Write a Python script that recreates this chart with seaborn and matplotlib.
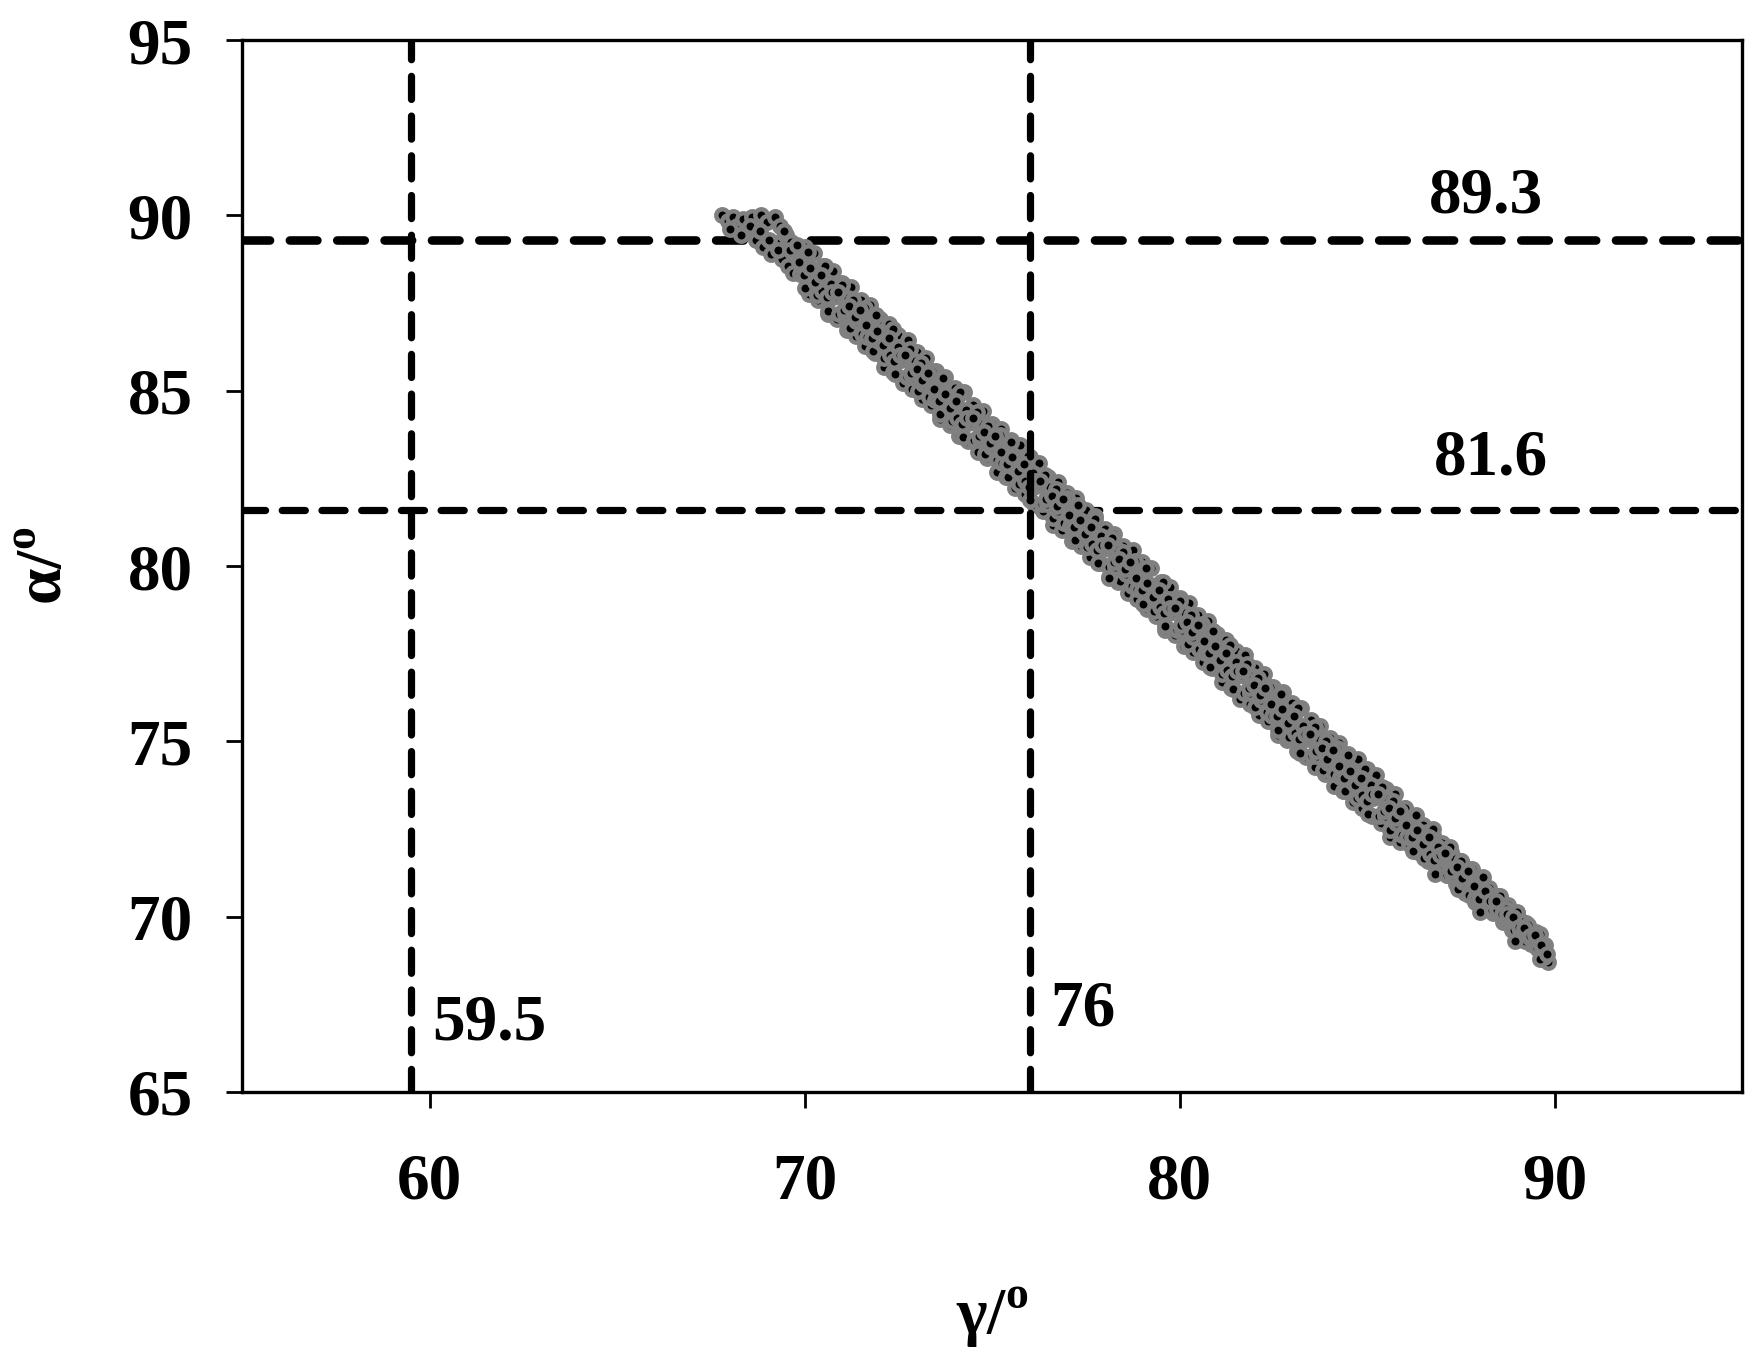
import matplotlib
matplotlib.use("Agg")
import matplotlib.pyplot as plt
import seaborn as sns

# gamma / alpha pairs
gamma_top = [67.80, 67.95, 68.10, 68.20, 68.35, 68.45, 68.60, 68.70, 68.85, 68.90,
             69.00, 69.10, 69.20, 69.25, 69.35, 69.40, 69.50, 69.55, 69.65, 69.70,
             68.00, 68.30, 68.55, 68.80, 69.05, 69.30, 69.45, 69.60]
alpha_top = [90.00, 89.85, 89.95, 89.70, 89.90, 89.55, 89.95, 89.30, 90.00, 89.10,
             89.80, 88.90, 89.95, 89.20, 89.70, 88.75, 89.45, 88.55, 89.25, 88.35,
             89.60, 89.45, 89.70, 89.55, 89.30, 89.00, 89.55, 89.00]

# upper and lower rims of the band
gamma_ou = [70.00, 70.25, 70.50, 70.75, 71.00, 71.25, 71.50, 71.75, 72.00, 72.25,
            72.50, 72.75, 73.00, 73.25, 73.50, 73.75, 74.00, 74.25, 74.50, 74.75,
            75.00, 75.25, 75.50, 75.75, 76.00, 76.25, 76.50, 76.75, 77.00, 77.25,
            77.50, 77.75, 78.00, 78.25, 78.50, 78.75, 79.00, 79.25, 79.50, 79.75,
            80.00, 80.25, 80.50, 80.75, 81.00, 81.25, 81.50, 81.75, 82.00, 82.25,
            82.50, 82.75, 83.00, 83.25, 83.50, 83.75, 84.00, 84.25, 84.50, 84.75,
            85.00, 85.25, 85.50, 85.75, 86.00, 86.25, 86.50, 86.75, 87.00, 87.25,
            87.50, 87.75, 88.00, 88.25, 88.50, 88.75, 89.00, 89.25, 89.50]
alpha_ou = [89.10, 88.93, 88.55, 88.40, 88.08, 87.95, 87.60, 87.43, 87.05, 86.90,
            86.58, 86.45, 86.10, 85.93, 85.55, 85.40, 85.08, 84.95, 84.60, 84.43,
            84.05, 83.90, 83.58, 83.45, 83.10, 82.93, 82.55, 82.40, 82.08, 81.95,
            81.60, 81.43, 81.05, 80.90, 80.58, 80.45, 80.10, 79.93, 79.55, 79.40,
            79.08, 78.95, 78.60, 78.43, 78.05, 77.90, 77.58, 77.45, 77.10, 76.93,
            76.55, 76.40, 76.08, 75.95, 75.60, 75.43, 75.10, 74.95, 74.63, 74.50,
            74.20, 74.03, 73.65, 73.50, 73.10, 72.85, 72.60, 72.33, 72.10, 71.85,
            71.60, 71.35, 71.08, 70.83, 70.58, 70.33, 70.10, 69.83, 69.55]

gamma_ol = [70.12, 70.37, 70.62, 70.87, 71.12, 71.37, 71.62, 71.87, 72.12, 72.37,
            72.62, 72.87, 73.12, 73.37, 73.62, 73.87, 74.12, 74.37, 74.62, 74.87,
            75.12, 75.37, 75.62, 75.87, 76.12, 76.37, 76.62, 76.87, 77.12, 77.37,
            77.62, 77.87, 78.12, 78.37, 78.62, 78.87, 79.12, 79.37, 79.62, 79.87,
            80.12, 80.37, 80.62, 80.87, 81.12, 81.37, 81.62, 81.87, 82.12, 82.37,
            82.62, 82.87, 83.12, 83.37, 83.62, 83.87, 84.12, 84.37, 84.62, 84.87,
            85.12, 85.37, 85.62, 85.87, 86.12, 86.37, 86.62, 86.87, 87.12, 87.37,
            87.62, 87.87, 88.12, 88.37, 88.62, 88.87, 89.12, 89.37, 89.62]
alpha_ol = [87.76, 87.58, 87.18, 87.03, 86.72, 86.56, 86.26, 86.08, 85.68, 85.53,
            85.22, 85.06, 84.76, 84.58, 84.18, 84.03, 83.72, 83.56, 83.26, 83.08,
            82.68, 82.53, 82.22, 82.06, 81.76, 81.58, 81.18, 81.03, 80.72, 80.56,
            80.26, 80.08, 79.68, 79.53, 79.22, 79.06, 78.76, 78.58, 78.18, 78.03,
            77.72, 77.56, 77.26, 77.08, 76.68, 76.53, 76.22, 76.06, 75.76, 75.58,
            75.18, 75.03, 74.72, 74.56, 74.26, 74.08, 73.73, 73.58, 73.27, 73.11,
            72.86, 72.68, 72.28, 72.13, 72.08, 71.83, 71.58, 71.35, 71.18, 70.93,
            70.68, 70.43, 70.36, 70.11, 69.86, 69.61, 69.44, 69.21, 68.99]

gamma_mid = [69.80, 69.87, 69.95, 70.02, 70.10, 70.17, 70.25, 70.32, 70.40, 70.47,
             70.55, 70.62, 70.70, 70.77, 70.85, 70.92, 71.00, 71.07, 71.15, 71.22,
             71.30, 71.37, 71.45, 71.52, 71.60, 71.67, 71.75, 71.82, 71.90, 71.97,
             72.05, 72.12, 72.20, 72.27, 72.35, 72.42, 72.50, 72.57, 72.65, 72.72,
             72.80, 72.87, 72.95, 73.02, 73.10, 73.17, 73.25, 73.32, 73.40, 73.47,
             73.55, 73.62, 73.70, 73.77, 73.85, 73.92, 74.00, 74.07, 74.15, 74.22,
             74.30, 74.37, 74.45, 74.52, 74.60, 74.67, 74.75, 74.82, 74.90, 74.97,
             75.05, 75.12, 75.20, 75.27, 75.35, 75.42, 75.50, 75.57, 75.65, 75.72,
             75.80, 75.87, 75.95, 76.02, 76.10, 76.17, 76.25, 76.32, 76.40, 76.47,
             76.55, 76.62, 76.70, 76.77, 76.85, 76.92, 77.00, 77.07, 77.15, 77.22,
             77.30, 77.37, 77.45, 77.52, 77.60, 77.67, 77.75, 77.82, 77.90, 77.97,
             78.05, 78.12, 78.20, 78.27, 78.35, 78.42, 78.50, 78.57, 78.65, 78.72,
             78.80, 78.87, 78.95, 79.02, 79.10, 79.17, 79.25, 79.32, 79.40, 79.47,
             79.55, 79.62, 79.70, 79.77, 79.85, 79.92, 78.13]
alpha_mid = [89.15, 88.33, 88.75, 87.93, 88.95, 88.23, 88.35, 87.73, 88.45, 87.83,
             88.55, 87.28, 88.05, 87.68, 87.70, 87.18, 88.00, 87.18, 87.65, 86.78,
             87.60, 86.98, 87.20, 86.63, 87.35, 86.53, 86.95, 86.13, 87.15, 86.43,
             86.55, 85.93, 86.65, 86.03, 86.75, 85.48, 86.25, 85.88, 85.90, 85.38,
             86.20, 85.38, 85.85, 84.98, 85.80, 85.18, 85.40, 84.83, 85.55, 84.73,
             85.15, 84.33, 85.35, 84.63, 84.75, 84.13, 84.85, 84.23, 84.95, 83.68,
             84.45, 84.08, 84.10, 83.58, 84.40, 83.58, 84.05, 83.18, 84.00, 83.38,
             83.60, 83.03, 83.75, 82.93, 83.35, 82.53, 83.55, 82.83, 82.95, 82.33,
             83.05, 82.43, 83.15, 81.88, 82.65, 82.28, 82.30, 81.78, 82.60, 81.78,
             82.25, 81.38, 82.20, 81.58, 81.80, 81.23, 81.95, 81.13, 81.55, 80.73,
             81.75, 81.03, 81.15, 80.53, 81.25, 80.63, 81.35, 80.08, 80.85, 80.48,
             80.50, 79.98, 80.80, 79.98, 80.45, 79.58, 80.40, 79.78, 80.00, 79.43,
             80.15, 79.33, 79.75, 78.93, 79.95, 79.23, 79.35, 78.73, 79.45, 78.83,
             79.55, 78.28, 79.05, 78.68, 78.70, 78.18, 79.66]

gamma_low = [80.00, 80.07, 80.15, 80.22, 80.30, 80.37, 80.45, 80.52, 80.60, 80.67,
             80.75, 80.82, 80.90, 80.97, 81.05, 81.12, 81.20, 81.27, 81.35, 81.42,
             81.50, 81.57, 81.65, 81.72, 81.80, 81.87, 81.95, 82.02, 82.10, 82.17,
             82.25, 82.32, 82.40, 82.47, 82.55, 82.62, 82.70, 82.77, 82.85, 82.92,
             83.00, 83.07, 83.15, 83.22, 83.30, 83.37, 83.45, 83.52, 83.60, 83.67,
             83.75, 83.82, 83.90, 83.97, 84.05, 84.12, 84.20, 84.27, 84.35, 84.42,
             84.50, 84.57, 84.65, 84.72, 84.80, 84.87, 84.95, 85.02, 85.10, 85.17,
             85.25, 85.32, 85.40, 85.47, 85.55, 85.62, 85.70, 85.77, 85.85, 85.92,
             86.00, 86.07, 86.15, 86.22, 86.30, 86.37, 86.45, 86.52, 86.60, 86.67,
             86.75, 86.82, 86.90, 86.97, 87.05, 87.12, 87.20, 87.27, 87.35, 87.42,
             87.50, 87.57, 87.65, 87.72, 87.80, 87.87, 87.95, 88.02, 88.10, 88.17,
             88.25, 88.32, 88.40, 88.47, 88.55, 88.62, 88.70, 88.77, 88.85, 88.92,
             89.00, 89.07, 89.15, 89.22, 89.30, 89.37, 89.45, 89.52, 89.60, 89.67,
             89.75, 89.82, 88.95, 89.72, 89.60]
alpha_low = [79.00, 78.18, 78.65, 77.78, 78.60, 77.98, 78.20, 77.63, 78.35, 77.53,
             77.95, 77.13, 78.15, 77.43, 77.55, 76.93, 77.65, 77.03, 77.75, 76.48,
             77.25, 76.88, 76.90, 76.38, 77.20, 76.38, 76.85, 75.98, 76.80, 76.18,
             76.40, 75.83, 76.55, 75.73, 76.15, 75.33, 76.35, 75.63, 75.75, 75.13,
             75.85, 75.23, 75.95, 74.68, 75.45, 75.08, 75.10, 74.58, 75.40, 74.58,
             75.05, 74.18, 75.00, 74.38, 74.65, 74.08, 74.80, 73.98, 74.40, 73.58,
             74.60, 73.88, 74.00, 73.38, 74.10, 73.48, 74.20, 72.93, 73.75, 73.38,
             73.40, 72.88, 73.70, 72.88, 73.35, 72.48, 73.30, 72.68, 72.90, 72.33,
             73.10, 72.28, 72.70, 71.88, 72.90, 72.18, 72.30, 71.68, 72.40, 71.78,
             72.50, 71.23, 72.00, 71.63, 71.70, 71.18, 72.00, 71.18, 71.65, 70.78,
             71.60, 70.98, 71.20, 70.63, 71.35, 70.53, 70.95, 70.13, 71.13, 70.51,
             70.63, 70.19, 70.59, 70.19, 70.59, 69.95, 70.23, 69.98, 69.96, 69.62,
             70.13, 69.61, 69.86, 69.31, 69.77, 69.37, 69.47, 69.10, 69.50, 68.98,
             69.20, 68.71, 69.30, 68.85, 68.80]

# points along the middle of the band
gamma_c1 = [69.84, 69.99, 70.14, 70.29, 70.44, 70.59, 70.74, 70.89, 71.04, 71.19,
            71.34, 71.49, 71.64, 71.79, 71.94, 72.09, 72.24, 72.39, 72.54, 72.69,
            72.84, 72.99, 73.14, 73.29, 73.44, 73.59, 73.74, 73.89, 74.04, 74.19,
            74.34, 74.49, 74.64, 74.79, 74.94, 75.09, 75.24, 75.39, 75.54, 75.69,
            75.84, 75.99, 76.14, 76.29, 76.44, 76.59, 76.74, 76.89, 77.04, 77.19,
            77.34, 77.49, 77.64, 77.79, 77.94, 78.09, 78.24, 78.39, 78.54, 78.69,
            78.84, 78.99, 79.14, 79.29, 79.44, 79.59, 79.74]
alpha_c1 = [88.66, 88.31, 88.51, 88.11, 88.31, 87.66, 87.81, 87.81, 87.31, 87.41,
            87.11, 87.31, 86.86, 86.51, 86.71, 86.31, 86.51, 85.86, 86.01, 86.01,
            85.51, 85.61, 85.31, 85.51, 85.06, 84.71, 84.91, 84.51, 84.71, 84.06,
            84.21, 84.21, 83.71, 83.81, 83.51, 83.71, 83.26, 82.91, 83.11, 82.71,
            82.91, 82.26, 82.41, 82.41, 81.91, 82.01, 81.71, 81.91, 81.46, 81.11,
            81.31, 80.91, 81.11, 80.46, 80.61, 80.61, 80.11, 80.21, 79.91, 80.11,
            79.66, 79.31, 79.51, 79.11, 79.31, 78.66, 78.81]

gamma_c2 = [79.89, 80.04, 80.19, 80.34, 80.49, 80.64, 80.79, 80.94, 81.09, 81.24,
            81.39, 81.54, 81.69, 81.84, 81.99, 82.14, 82.29, 82.44, 82.59, 82.74,
            82.89, 83.04, 83.19, 83.34, 83.49, 83.64, 83.79, 83.94, 84.09, 84.24,
            84.39, 84.54, 84.69, 84.84, 84.99, 85.14, 85.29, 85.44, 85.59, 85.74,
            85.89, 86.04, 86.19, 86.34, 86.49, 86.64, 86.79, 86.94, 87.09, 87.24,
            87.39, 87.54, 87.69, 87.84, 87.99, 88.14, 88.29, 88.44, 88.59, 88.74,
            88.89, 89.04, 89.19, 89.34, 89.49, 89.64, 89.79]
alpha_c2 = [78.81, 78.31, 78.41, 78.11, 78.31, 77.86, 77.51, 77.71, 77.31, 77.51,
            76.86, 77.01, 77.01, 76.51, 76.61, 76.31, 76.51, 76.06, 75.71, 75.91,
            75.51, 75.71, 75.06, 75.21, 75.21, 74.71, 74.81, 74.51, 74.76, 74.31,
            73.96, 74.16, 73.76, 73.96, 73.31, 73.51, 73.51, 73.01, 73.11, 72.81,
            73.01, 72.61, 72.26, 72.46, 72.06, 72.26, 71.61, 71.76, 71.81, 71.31,
            71.41, 71.11, 71.31, 70.86, 70.51, 70.72, 70.44, 70.46, 70.07, 70.07,
            69.99, 69.71, 69.69, 69.46, 69.49, 69.19, 68.94]

gamma_lines = [59.5, 76]
alpha_lines = [89.3, 81.6]
line_labels = ["59.5", "76", "89.3", "81.6"]
label_x = [60.06, 76.54, 86.66, 86.79]
label_y = [66.51, 66.89, 90.07, 82.60]

xticks = [60, 70, 80, 90]
yticks = [65, 70, 75, 80, 85, 90, 95]

gamma = gamma_ou + gamma_ol + gamma_top + gamma_mid + gamma_c1 + gamma_low + gamma_c2
alpha = alpha_ou + alpha_ol + alpha_top + alpha_mid + alpha_c1 + alpha_low + alpha_c2

sns.set_theme(style="ticks")
plt.rcParams["font.family"] = ["Liberation Serif", "DejaVu Serif"]
plt.rcParams["font.weight"] = "bold"
plt.rcParams["mathtext.fontset"] = "custom"
plt.rcParams["mathtext.rm"] = "Liberation Serif"
for key in ["text.color", "axes.labelcolor", "xtick.color", "ytick.color", "axes.edgecolor"]:
    plt.rcParams[key] = "black"

fig = plt.figure(figsize=(17.58, 13.57), dpi=100)
ax = fig.add_axes([0.1377, 0.1953, 0.8532, 0.7752])

dash = (3.2, 2.3)
for a, lw in zip(alpha_lines, [6.2, 5.2]):
    ax.axhline(a, color="black", lw=lw, dashes=dash, dash_capstyle="round", zorder=1)

# black dots with a grey rim, as in the original
sns.scatterplot(x=gamma, y=alpha, ax=ax, s=80, color="black",
                edgecolor="#808080", linewidth=3.2, zorder=3, legend=False)

for g in gamma_lines:
    ax.axvline(g, color="black", lw=5.2, dashes=dash, dash_capstyle="round", zorder=4)

for t, x, y in zip(line_labels, label_x, label_y):
    ax.text(x, y, t, fontsize=47, fontweight="bold", ha="left", va="baseline", zorder=5)

ax.set_xlim(55, 95)
ax.set_ylim(65, 95)
ax.set_xticks(xticks)
ax.set_yticks(yticks)
ax.tick_params(direction="out", length=11.5, width=2, labelsize=47,
               bottom=True, left=True, top=False, right=False)
ax.tick_params(axis="x", pad=32)
ax.tick_params(axis="y", pad=24)
for sp in ax.spines.values():
    sp.set_visible(True)
    sp.set_linewidth(2.4)
    sp.set_color("black")

ax.set_xlabel(r"γ/$^{\mathrm{o}}$", fontsize=47, fontweight="bold", va="center")
ax.set_ylabel(r"α/$^{\mathrm{o}}$", fontsize=47, fontweight="bold", va="center")
ax.xaxis.set_label_coords(0.5, -0.214)
ax.yaxis.set_label_coords(-0.131, 0.5)

fig.savefig("out.png", dpi=100)
